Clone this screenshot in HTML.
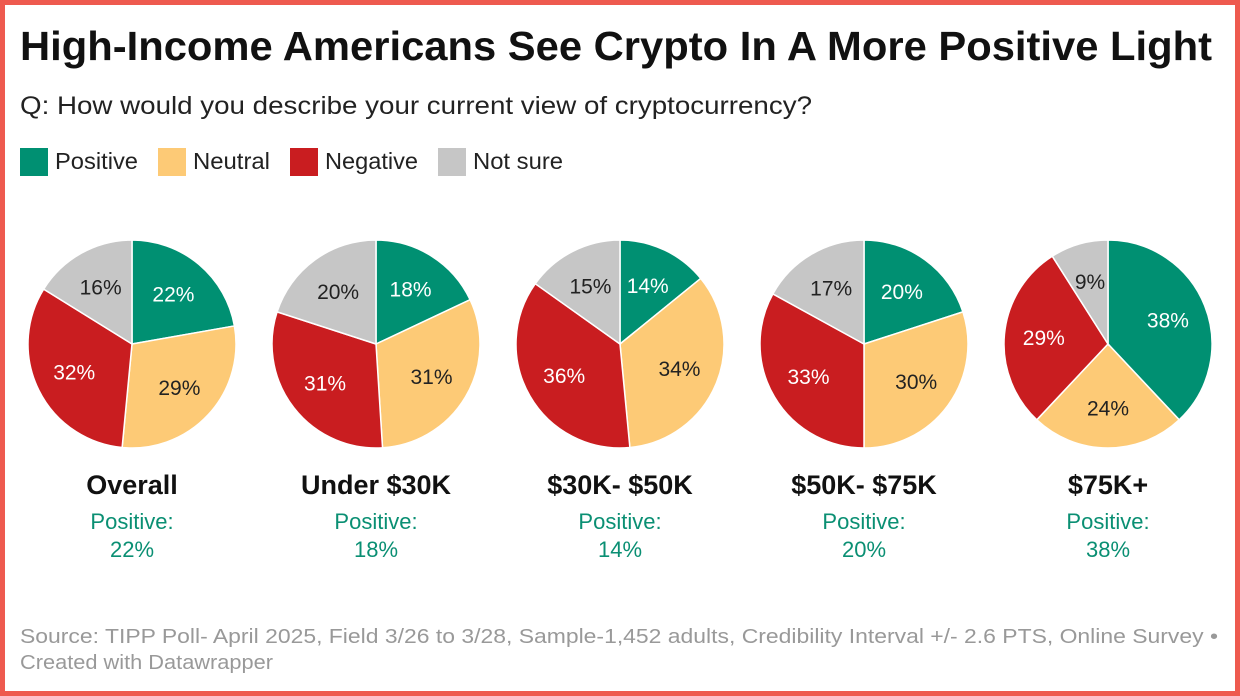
<!DOCTYPE html>
<html><head><meta charset="utf-8">
<style>
html,body{margin:0;padding:0;}
body{width:1240px;height:696px;overflow:hidden;background:#fff;font-family:"Liberation Sans",Arial,sans-serif;}
.frame{position:absolute;left:0;top:0;width:1230px;height:686px;border:5px solid #ee5a4f;}
</style></head><body>
<div class="frame"></div>
<svg id="chart" width="1240" height="696" style="position:absolute;left:0;top:0">
<text x="20" y="60" font-size="41" font-weight="bold" fill="#111" textLength="1192" lengthAdjust="spacingAndGlyphs">High-Income Americans See Crypto In A More Positive Light</text>
<text x="20" y="114" font-size="25" fill="#222" textLength="792" lengthAdjust="spacingAndGlyphs">Q: How would you describe your current view of cryptocurrency?</text>
<g id="legend"></g>
<g id="pies"></g>
<text x="20" y="643" font-size="20" fill="#999" textLength="1198" lengthAdjust="spacingAndGlyphs">Source: TIPP Poll- April 2025, Field 3/26 to 3/28, Sample-1,452 adults, Credibility Interval +/- 2.6 PTS, Online Survey •</text>
<text x="20" y="669" font-size="20" fill="#999" textLength="253" lengthAdjust="spacingAndGlyphs">Created with Datawrapper</text>
</svg>
<script>
const categories = ["Positive","Neutral","Negative","Not sure"];
const colors = ["#009072","#fdca76","#c91d20","#c6c6c6"];
const groups = ["Overall","Under $30K","$30K- $50K","$50K- $75K","$75K+"];
const positive = [22,18,14,20,38];
const neutral = [29,31,34,30,24];
const negative = [32,31,36,33,29];
const notSure = [16,20,15,17,9];

const NS="http://www.w3.org/2000/svg";
function mk(tag,attrs,parent){const e=document.createElementNS(NS,tag);for(const k in attrs)e.setAttribute(k,attrs[k]);parent.appendChild(e);return e;}

const legend=document.getElementById('legend');
const legX=[20,158,290,438];
const legW=[83,77,93,90];
categories.forEach((c,i)=>{
  const sw=mk('rect',{x:legX[i],y:148,width:28,height:28,fill:colors[i]},legend);
  
  
  const t=mk('text',{x:legX[i]+35,y:169,'font-size':23,fill:'#222',textLength:legW[i],lengthAdjust:'spacingAndGlyphs'},legend);
  t.textContent=c;
  
  
});

const pies=document.getElementById('pies');
const R=104, CY=344;
groups.forEach((g,gi)=>{
  const cx=132+gi*244;
  const vals=[positive[gi],neutral[gi],negative[gi],notSure[gi]];
  const tot=vals.reduce((a,b)=>a+b,0);
  let a0=0;
  vals.forEach((v,i)=>{
    const a1=a0+v/tot*2*Math.PI;
    const x0=cx+R*Math.sin(a0),y0=CY-R*Math.cos(a0),x1=cx+R*Math.sin(a1),y1=CY-R*Math.cos(a1);
    const large=(a1-a0)>Math.PI?1:0;
    const p=mk('path',{d:`M${cx},${CY}L${x0},${y0}A${R},${R} 0 ${large} 1 ${x1},${y1}Z`,fill:colors[i],stroke:'#fff','stroke-width':1.5},pies);
    
    
    const am=(a0+a1)/2, lr=R*0.62;
    const t=mk('text',{x:cx+lr*Math.sin(am),y:CY-lr*Math.cos(am)+7,'text-anchor':'middle','font-size':21,fill:(i==1||i==3)?'#222':'#fff'},pies);
    t.textContent=v+'%';
    
    
    a0=a1;
  });
  const gt=mk('text',{x:cx,y:494,'text-anchor':'middle','font-size':27,'font-weight':'bold',fill:'#111'},pies);
  gt.textContent=g;
  
  
  const p1=mk('text',{x:cx,y:529,'text-anchor':'middle','font-size':22,fill:'#0a8f73'},pies);
  p1.textContent='Positive:';
  
  
  const p2=mk('text',{x:cx,y:557,'text-anchor':'middle','font-size':22,fill:'#0a8f73'},pies);
  p2.textContent=positive[gi]+'%';
  
  
});
</script>
</body></html>
